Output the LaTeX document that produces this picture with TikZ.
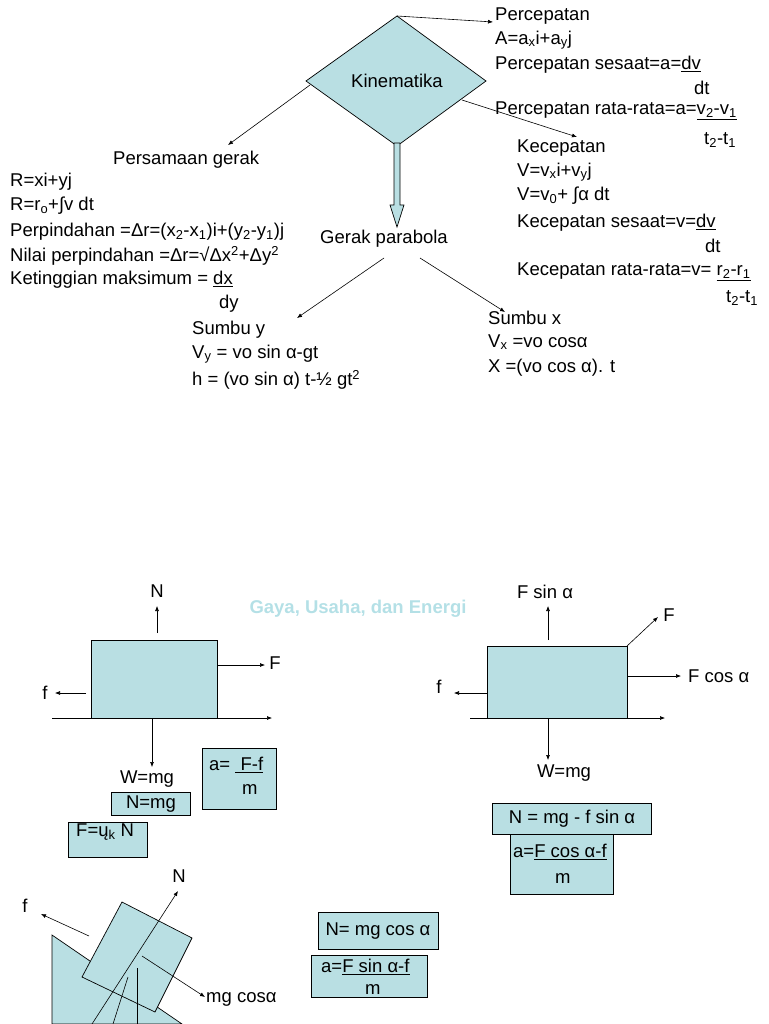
\documentclass[tikz,border=0pt]{standalone}
\usepackage{fontspec}
\setmainfont{Liberation Sans}
\usetikzlibrary{arrows.meta}
\definecolor{lb}{HTML}{B9DFE3}
\definecolor{gt}{HTML}{B4E0E6}
\newcommand\lo[1]{\textsubscript{#1}}
\newcommand\hi[1]{\textsuperscript{#1}}
\begin{document}
\begin{tikzpicture}[x=1pt,y=-1pt,
  t/.style={anchor=west,inner sep=0pt,font=\fontsize{18.5}{21}\selectfont},
  ar/.style={-{Latex[length=5pt,width=4pt]},line width=0.6pt},
  bx/.style={draw,fill=lb,line width=0.8pt},
  fl/.style={fill=lb,draw,line width=0.7pt}]
\useasboundingbox (0,0) rectangle (768,1024);
% diamond
\path[fl] (397,16) -- (486,81) -- (397,146) -- (306,81) -- cycle;
\node[t,anchor=center] (kin) at (397,81) {Kinematika};
\coordinate (dtop) at (397,16);
\coordinate (dright) at (462,100);
\coordinate (dleft) at (310,85);
% hollow arrow
\path[fl] (394,143) -- (400,143) -- (400,205) -- (404,205) -- (397,227) -- (390,205) -- (394,205) -- cycle;
% right texts
\node[t] (perc) at (495,16) {Percepatan};
\node[t] at (495,40) {A=a\lo{x}i+a\lo{y}j};
\node[t] at (495,65) {Percepatan sesaat=a=\underline{dv}};
\node[t] at (694,88) {dt};
\node[t] at (495,111) {Percepatan rata-rata=a=\underline{v\lo{2}-v\lo{1}}};
\node[t] at (704,140) {t\lo{2}-t\lo{1}};
\node[t] (kec) at (517,148) {Kecepatan};
\node[t] at (517,172) {V=v\lo{x}i+v\lo{y}j};
\node[t] at (517,196) {V=v\lo{0}+ ∫α dt};
\node[t] at (517,223) {Kecepatan sesaat=v=\underline{dv}};
\node[t] at (705,246) {dt};
\node[t] at (517,272) {Kecepatan rata-rata=v= \underline{r\lo{2}-r\lo{1}}};
\node[t] at (726,298) {t\lo{2}-t\lo{1}};
% left texts
\node[t] (pg) at (113,160) {Persamaan gerak};
\node[t] at (10,182) {R=xi+yj};
\node[t] at (10,206) {R=r\lo{o}+∫v dt};
\node[t] at (10,232) {Perpindahan =Δr=(x\lo{2}-x\lo{1})i+(y\lo{2}-y\lo{1})j};
\node[t] at (10,256) {Nilai perpindahan =Δr=√Δx\hi{2}+Δy\hi{2}};
\node[t] at (10,280) {Ketinggian maksimum = \underline{dx}};
\node[t] at (219,304) {dy};
% parabola
\node[t,anchor=center] (gp) at (384,239) {Gerak parabola};
\coordinate (gpl) at (384,258);
\coordinate (gpr) at (420,258);
\node[t] (sy) at (192,330) {Sumbu y};
\node[t] at (192,354) {V\lo{y} = vo sin α-gt};
\node[t] at (192,380) {h = (vo sin α) t-½ gt\hi{2}};
\node[t] (sx) at (488,318) {Sumbu x};
\node[t] at (488,342) {V\lo{x} =vo cosα};
\node[t] at (488,368) {X =(vo cos α). t};
\coordinate (pa) at (493,22);
\coordinate (ka) at (577,137);
\coordinate (pga) at (228,145);
\coordinate (sya) at (297,318);
\coordinate (sxa) at (505,312);
\draw[ar] (dtop) -- (pa);
\draw[ar] (dright) -- (ka);
\draw[ar] (dleft) -- (pga);
\draw[ar] (gpl) -- (sya);
\draw[ar] (gpr) -- (sxa);
% title
\node[t,anchor=center,text=gt,font=\fontsize{18.5}{21}\selectfont\bfseries] (ttl) at (358,609) {Gaya, Usaha, dan Energi};
% block 1
\node[bx,minimum width=126pt,minimum height=78pt,inner sep=0pt] (b1) at (154,679) {};
\coordinate (n1a) at (157,633); \coordinate (n1b) at (157,606);
\draw[ar] (n1a) -- (n1b);
\node[t,anchor=center] (N1) at (157,591) {N};
\coordinate (f1a) at (217,665); \coordinate (f1b) at (265,665);
\draw[ar] (f1a) -- (f1b);
\node[t,anchor=center] (F1) at (275,663) {F};
\coordinate (s1a) at (86,693); \coordinate (s1b) at (55,693);
\draw[ar] (s1a) -- (s1b);
\node[t,anchor=center] (fs1) at (45,693) {f};
\coordinate (g1a) at (52,718); \coordinate (g1b) at (272,718);
\draw[ar] (g1a) -- (g1b);
\coordinate (w1a) at (152,718); \coordinate (w1b) at (152,767);
\draw[ar] (w1a) -- (w1b);
\node[t,anchor=center] (W1) at (147,779) {W=mg};
\node[bx,t,anchor=center,minimum width=79pt,minimum height=23pt] (nmg) at (151,804) {N=mg};
\node[bx,minimum width=74pt,minimum height=61pt] (af) at (239,779) {};
\node[t] at (209,765) {a= \underline{ F-f}};
\node[t] at (242,790) {m};
\node[bx,minimum width=79pt,minimum height=35pt] (fu) at (108,840) {};
\node[t] at (76,832) {F=ų\lo{k} N};
% block 2
\node[bx,minimum width=140pt,minimum height=72pt,inner sep=0pt] (b2) at (557,682) {};
\coordinate (n2a) at (548,640); \coordinate (n2b) at (548,606);
\draw[ar] (n2a) -- (n2b);
\node[t,anchor=center] (Fs) at (545,592) {F sin α};
\coordinate (F2a) at (627,646); \coordinate (F2b) at (658,617);
\draw[ar] (F2a) -- (F2b);
\node[t,anchor=center] (F2) at (669,615) {F};
\coordinate (c2a) at (627,676); \coordinate (c2b) at (681,676);
\draw[ar] (c2a) -- (c2b);
\node[t] (Fc) at (688,676) {F cos α};
\coordinate (s2a) at (488,693); \coordinate (s2b) at (454,693);
\draw[ar] (s2a) -- (s2b);
\node[t,anchor=center] (fs2) at (439,687) {f};
\coordinate (g2a) at (470,718); \coordinate (g2b) at (665,718);
\draw[ar] (g2a) -- (g2b);
\coordinate (w2a) at (548,718); \coordinate (w2b) at (548,760);
\draw[ar] (w2a) -- (w2b);
\node[t,anchor=center] (W2) at (564,773) {W=mg};
\node[bx,minimum width=103pt,minimum height=60pt] (acf) at (562,864) {};
\node[bx,t,anchor=center,minimum width=159pt,minimum height=31pt] (nf) at (572,819) {N = mg - f sin α};
\node[t] at (513,852) {a=\underline{F cos α-f}};
\node[t] at (555,879) {m};
% inclined plane
\path[fl] (52,935) -- (182,1024) -- (52,1024) -- cycle;
\path[fl] (122,902) -- (192,938) -- (155,1012) -- (82,977) -- cycle;
\coordinate (na) at (92,1024); \coordinate (nb) at (178,891);
\draw[ar] (na) -- (nb);
\node[t,anchor=center] (N3) at (179,876) {N};
\coordinate (fa) at (89,936); \coordinate (fb) at (41,914);
\draw[ar] (fa) -- (fb);
\node[t,anchor=center] (f3) at (25,906) {f};
\coordinate (ma) at (142,956); \coordinate (mb) at (205,997);
\draw[ar] (ma) -- (mb);
\node[t] (mg) at (206,999) {mg cosα};
\coordinate (va) at (137,968); \coordinate (vb) at (137,1024);
\draw[line width=0.6pt] (va) -- (vb);
\coordinate (la) at (128,977); \coordinate (lb2) at (113,1024);
\draw[line width=0.6pt] (la) -- (lb2);
\node[bx,t,anchor=center,minimum width=120pt,minimum height=37pt] (ncos) at (378,931) {N= mg cos α};
\node[bx,minimum width=116pt,minimum height=42pt] (asin) at (369,976) {};
\node[t] at (321,967) {a=\underline{F sin α-f}};
\node[t] at (365,990) {m};
\end{tikzpicture}
\end{document}
